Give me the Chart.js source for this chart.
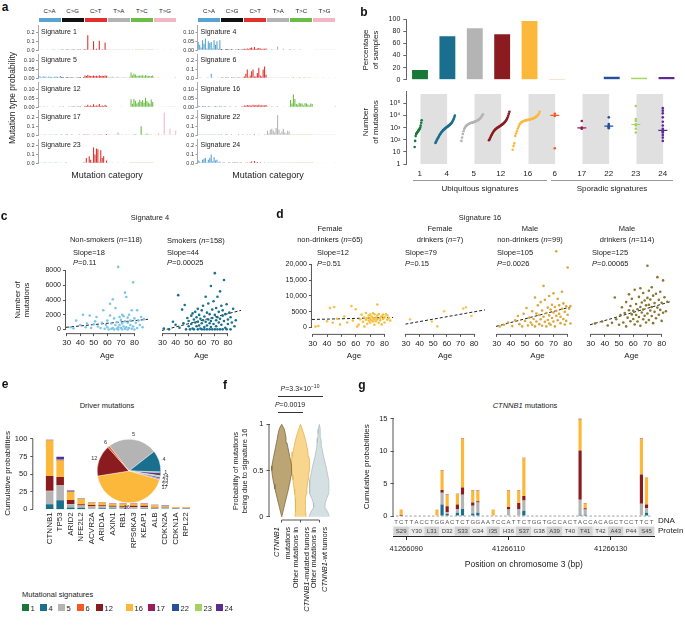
<!DOCTYPE html>
<html>
<head>
<meta charset="utf-8">
<script src="https://cdn.jsdelivr.net/npm/chart.js@4.4.0/dist/chart.umd.min.js"></script>
<style>
html, body { margin: 0; padding: 0; background: #fff; }
body { width: 685px; height: 625px; overflow: hidden; font-family: 'Liberation Sans', Arial, sans-serif; color: #222; }
#stage { position: relative; width: 685px; height: 625px; }
#stage canvas { position: absolute; }
.t { position: absolute; white-space: nowrap; line-height: 1.2; text-align: center; color: #222; }
.L { position: absolute; font-weight: bold; font-size: 12px; color: #111; transform: translate(-50%, -50%); }
</style>
</head>
<body>
<div id="stage"></div>
<script>
// ---------- a: signature profiles, 96 contexts (6 mutation types x 16) ----------
const mutTypes = ['C>A', 'C>G', 'C>T', 'T>A', 'T>C', 'T>G'];
const mutColors = ['#58a3d3', '#111111', '#e3302c', '#b3b3b3', '#6bbd45', '#f3b6c3'];

const sig1 = [
  .006,.005,.002,.004,.006,.004,.001,.004,.004,.003,.001,.003,.005,.004,.001,.006,
  .002,.001,.000,.002,.002,.001,.000,.002,.001,.001,.000,.001,.001,.001,.000,.002,
  .012,.008,.165,.006,.009,.007,.098,.007,.017,.009,.105,.006,.011,.008,.085,.008,
  .001,.001,.001,.002,.001,.001,.001,.001,.001,.001,.001,.001,.001,.001,.001,.002,
  .005,.003,.004,.003,.002,.003,.003,.003,.003,.002,.004,.002,.002,.002,.002,.002,
  .001,.000,.001,.001,.000,.000,.000,.001,.000,.000,.000,.000,.001,.000,.000,.001];
const sig5 = [
  .012,.010,.006,.011,.009,.008,.004,.010,.008,.007,.004,.009,.010,.009,.005,.012,
  .007,.005,.002,.006,.006,.004,.001,.005,.004,.003,.001,.004,.006,.005,.002,.006,
  .015,.012,.018,.014,.013,.011,.016,.013,.014,.011,.017,.012,.014,.012,.015,.014,
  .008,.006,.007,.010,.005,.004,.005,.008,.004,.004,.005,.006,.005,.004,.004,.009,
  .033,.015,.025,.021,.013,.014,.016,.015,.017,.011,.018,.014,.013,.012,.013,.015,
  .005,.003,.004,.006,.002,.002,.003,.004,.002,.002,.003,.003,.003,.003,.004,.008];
const sig12 = [
  .005,.004,.002,.004,.004,.003,.001,.003,.003,.002,.001,.002,.003,.003,.001,.004,
  .002,.001,.000,.002,.002,.001,.000,.001,.001,.001,.000,.001,.001,.001,.000,.002,
  .008,.006,.014,.007,.009,.007,.016,.008,.010,.008,.018,.007,.009,.007,.012,.008,
  .003,.002,.002,.003,.002,.002,.002,.003,.002,.001,.002,.002,.002,.002,.002,.003,
  .044,.019,.046,.036,.021,.028,.041,.030,.039,.024,.052,.034,.025,.019,.043,.029,
  .002,.001,.002,.002,.001,.001,.001,.002,.001,.001,.001,.001,.001,.001,.001,.004];
const sig17 = [
  .002,.001,.000,.001,.001,.001,.000,.001,.001,.001,.000,.001,.001,.001,.000,.002,
  .001,.000,.000,.001,.001,.000,.000,.001,.000,.000,.000,.000,.001,.000,.000,.001,
  .003,.002,.002,.003,.004,.004,.002,.009,.004,.003,.003,.007,.003,.004,.002,.012,
  .002,.001,.001,.004,.002,.001,.002,.030,.002,.001,.001,.006,.001,.001,.001,.003,
  .004,.002,.003,.010,.003,.005,.006,.100,.003,.002,.003,.018,.002,.002,.003,.005,
  .003,.001,.002,.021,.002,.002,.005,.250,.003,.001,.002,.070,.002,.001,.003,.052];
const sig23 = [
  .001,.001,.000,.001,.001,.001,.000,.001,.001,.001,.000,.001,.001,.001,.000,.001,
  .000,.000,.000,.001,.000,.000,.000,.000,.000,.000,.000,.000,.000,.000,.000,.001,
  .008,.060,.005,.080,.040,.012,.180,.100,.170,.160,.010,.150,.060,.080,.005,.030,
  .001,.000,.000,.001,.000,.000,.000,.001,.000,.000,.000,.001,.000,.000,.000,.001,
  .002,.001,.001,.002,.001,.001,.001,.002,.001,.001,.001,.001,.001,.001,.001,.002,
  .000,.000,.000,.000,.000,.000,.000,.000,.000,.000,.000,.000,.000,.000,.000,.000];
const sig4 = [
  .045,.030,.015,.055,.035,.065,.010,.050,.040,.045,.010,.055,.030,.050,.008,.055,
  .006,.004,.002,.005,.006,.004,.001,.005,.004,.003,.001,.004,.005,.004,.001,.005,
  .008,.006,.010,.007,.012,.015,.008,.018,.007,.010,.012,.009,.006,.008,.008,.010,
  .004,.003,.003,.006,.004,.004,.003,.020,.003,.002,.002,.008,.003,.002,.002,.005,
  .005,.003,.004,.004,.003,.003,.004,.004,.003,.002,.003,.003,.002,.002,.003,.003,
  .002,.001,.001,.002,.001,.001,.001,.002,.001,.001,.001,.001,.001,.001,.001,.002];
const sig6 = [
  .004,.003,.002,.004,.006,.005,.002,.009,.005,.050,.002,.006,.005,.004,.002,.006,
  .001,.001,.000,.001,.001,.001,.000,.001,.001,.001,.000,.001,.001,.001,.000,.001,
  .020,.050,.100,.010,.030,.080,.100,.020,.020,.060,.120,.030,.020,.100,.135,.040,
  .001,.001,.001,.001,.001,.001,.001,.001,.001,.001,.001,.001,.001,.001,.001,.001,
  .004,.002,.012,.004,.003,.006,.010,.008,.004,.003,.010,.006,.003,.003,.008,.005,
  .001,.000,.001,.001,.000,.000,.001,.001,.000,.000,.000,.001,.000,.000,.000,.001];
const sig16 = [
  .008,.006,.003,.007,.006,.005,.002,.006,.005,.004,.002,.005,.006,.005,.002,.007,
  .004,.003,.001,.004,.003,.002,.001,.003,.002,.002,.001,.002,.003,.003,.001,.004,
  .010,.008,.012,.009,.011,.008,.014,.010,.012,.009,.013,.010,.011,.009,.010,.012,
  .005,.003,.004,.005,.004,.003,.004,.006,.003,.003,.003,.004,.003,.003,.003,.005,
  .040,.020,.070,.045,.018,.015,.025,.020,.020,.010,.022,.020,.015,.010,.020,.018,
  .004,.002,.003,.004,.002,.002,.002,.003,.002,.002,.002,.002,.002,.002,.002,.006];
const sig22 = [
  .002,.001,.001,.002,.002,.001,.001,.002,.001,.001,.001,.001,.001,.001,.001,.002,
  .001,.000,.000,.001,.001,.000,.000,.001,.000,.000,.000,.000,.001,.000,.000,.001,
  .006,.004,.003,.005,.008,.006,.004,.010,.005,.004,.003,.006,.005,.004,.003,.007,
  .050,.020,.060,.070,.050,.030,.080,.220,.060,.020,.040,.070,.030,.020,.050,.040,
  .003,.002,.002,.003,.002,.002,.002,.003,.002,.001,.002,.002,.002,.001,.002,.003,
  .002,.001,.001,.002,.001,.001,.001,.002,.001,.001,.001,.001,.001,.001,.001,.002];
const sig24 = [
  .030,.020,.010,.040,.050,.060,.010,.040,.060,.100,.020,.070,.030,.040,.010,.020,
  .004,.003,.001,.004,.004,.003,.001,.004,.003,.002,.001,.003,.004,.003,.001,.004,
  .004,.003,.003,.005,.010,.020,.006,.025,.008,.015,.004,.010,.005,.006,.003,.006,
  .002,.001,.001,.002,.002,.001,.001,.002,.001,.001,.001,.001,.001,.001,.001,.002,
  .002,.001,.001,.002,.001,.001,.001,.002,.001,.001,.001,.001,.001,.001,.001,.002,
  .001,.000,.000,.001,.000,.000,.000,.001,.000,.000,.000,.000,.000,.000,.000,.001];

const sigLeft = ['1', '5', '12', '17', '23'];
const sigRight = ['4', '6', '16', '22', '24'];
const smallScaleSigs = ['5', '12', '4', '16'];
const tickBig = [0, 0.1, 0.2], tickBigLab = ['0.0', '0.1', '0.2'];
const tickSmall = [0, 0.05, 0.1], tickSmallLab = ['0.00', '0.05', '0.10'];

// ---------- b ----------
const sigNames = ['1', '4', '5', '12', '16', '6', '17', '22', '23', '24'];
const pctSamples = [16, 72, 85, 75, 97, 1.2, 1, 5, 3.5, 4.5];
const pctTicks = [0, 20, 40, 60, 80, 100];
const shaded = [0, 1, 0, 1, 0, 1, 0, 1, 0, 1];
const muts1 = [25, 80, 200, 300, 350, 400, 450, 500, 600, 700, 800, 1000, 1500, 2500, 4000];
const muts4 = [55, 65, 80, 100, 120, 140, 170, 200, 240, 280, 330, 380, 430, 480, 540, 600, 660, 720, 790, 860, 930, 1000, 1080, 1160, 1250, 1350, 1460, 1580, 1720, 1880, 2050, 2300, 2600, 3000, 3600, 4400, 5600, 7500, 10000];
const muts5 = [80, 150, 300, 500, 750, 1000, 1250, 1450, 1650, 1800, 1950, 2100, 2250, 2400, 2500, 2600, 2700, 2800, 2950, 3100, 3300, 3500, 3800, 4100, 4500, 5000, 5700, 6600, 8000, 10000, 12500];
const muts12 = [90, 110, 140, 180, 230, 290, 360, 440, 520, 600, 680, 760, 840, 920, 1000, 1080, 1170, 1260, 1360, 1480, 1600, 1750, 1920, 2100, 2350, 2650, 3000, 3500, 4200, 5200, 6800, 9500, 14000, 20000];
const muts16 = [15, 30, 50, 200, 320, 500, 800, 1200, 1700, 2200, 2600, 2900, 3200, 3450, 3650, 3850, 4000, 4150, 4300, 4450, 4600, 4800, 5000, 5300, 5600, 6000, 6500, 7200, 8000, 9200, 11000, 14000, 20000];
const muts6 = [20, 9000, 14000];
const muts17 = [800, 900, 1000, 3500];
const muts22 = [900, 1000, 1200, 1300, 1500, 2000, 7000];
const muts23 = [400, 800, 1500, 2000, 3500, 5000, 60000];
const muts24 = [80, 150, 250, 400, 500, 600, 800, 1500, 3000, 7000, 15000, 25000, 40000];
const sporadicMedian = [10000, 950, 1300, 1800, 600];
const logTicks = [1, 10, 100, 1000, 10000, 100000];
const logTickLabels = ['1', '10', '10²', '10³', '10⁴', '10⁵'];

const sigColor = { '1': '#17783a', '4': '#1a6e8e', '5': '#b4b4b4', '6': '#f15a24', '12': '#8a1c1f',
  '16': '#fbb83b', '17': '#9a1d5d', '22': '#24509c', '23': '#a3d461', '24': '#5b2d8e' };

// ---------- c / d: age vs number of mutations ----------
const ageTicks = [30, 40, 50, 60, 70, 80];
const cTicks = [0, 2000, 4000, 6000, 8000], cTickLabels = ['0', '2000', '4000', '6000', '8000'];
const dTicks = [0, 5000, 10000, 15000, 20000], dTickLabels = ['0', '5000', '10,000', '15,000', '20,000'];

const nonSmokers = [[33,300],[35,150],[37,1200],[40,600],[42,2000],[44,300],[45,800],[47,1900],[48,200],[50,700],[51,1100],[52,1700],[53,400],[55,200],[56,900],[57,2600],[58,100],[59,600],[60,1200],[60,300],[61,0],[62,1900],[62,3500],[63,100],[63,800],[64,4100],[64,200],[65,1500],[65,0],[66,600],[66,2900],[67,100],[67,1000],[68,300],[68,8500],[68,0],[69,1700],[69,600],[70,200],[70,1300],[71,0],[71,2000],[71,800],[72,400],[72,1800],[73,5000],[73,100],[73,1100],[74,4400],[74,300],[75,0],[75,1600],[75,900],[76,2000],[76,200],[77,600],[77,1200],[78,100],[78,2600],[79,6400],[79,400],[80,1500],[80,0],[81,900],[82,2600],[82,200],[83,1200],[84,600],[85,1700],[86,300],[87,1400]];
const smokers = [[31,100],[35,0],[38,1000],[40,600],[42,4500],[43,200],[45,2600],[46,800],[47,3200],[48,0],[49,1500],[50,400],[50,1100],[51,0],[52,1800],[52,700],[53,2100],[53,100],[54,1300],[54,0],[55,900],[55,2300],[56,400],[56,1600],[57,0],[57,2700],[57,1000],[58,500],[58,1900],[59,100],[59,1400],[60,800],[60,2500],[60,0],[61,1200],[61,3100],[62,300],[62,1700],[62,0],[63,1000],[63,4300],[64,2200],[64,500],[64,0],[65,1300],[65,3400],[66,800],[66,0],[66,2000],[67,5700],[67,1100],[67,300],[68,2600],[68,0],[68,1500],[69,700],[69,3700],[70,7400],[70,1900],[70,0],[71,1200],[71,2800],[71,400],[72,0],[72,1600],[72,4300],[73,900],[73,2300],[74,0],[74,1400],[74,5000],[75,3100],[75,600],[76,0],[76,1800],[76,2500],[77,1100],[77,6500],[78,200],[78,2000],[79,0],[79,3300],[80,1300],[80,700],[81,2200],[82,0],[82,1600],[83,900],[84,2700],[85,400],[86,1200]];
const femaleNonDrinkers = [[32,300],[34,500],[40,2000],[42,6200],[44,1500],[45,6500],[47,2800],[49,1000],[52,3500],[54,1600],[57,6800],[58,2200],[60,5800],[61,300],[62,900],[63,2600],[64,4100],[65,1800],[66,3200],[66,300],[67,2500],[67,4600],[68,1200],[68,3000],[69,2200],[69,3800],[70,4100],[70,1600],[70,2800],[71,3500],[71,2300],[72,4500],[72,1900],[72,3000],[73,2600],[73,4200],[73,900],[74,3200],[74,2000],[75,7300],[75,3800],[75,2600],[76,1500],[76,4300],[77,3100],[77,2300],[78,1000],[78,3600],[79,4100],[79,2700],[80,1600],[80,3300],[81,4200],[82,2500],[82,3800],[83,3000],[84,2200]];
const femaleDrinkers = [[33,2500],[49,1800],[53,300],[58,5000],[72,5800],[74,6200],[78,3500]];
const maleNonDrinkers = [[32,300],[35,800],[38,1500],[41,400],[43,2200],[45,3500],[46,1000],[48,300],[49,4200],[50,2000],[51,6000],[52,600],[53,3000],[54,1500],[55,800],[55,5000],[56,2600],[57,9200],[57,300],[58,4300],[58,1800],[59,6800],[60,1000],[60,3800],[61,7800],[61,2500],[62,500],[62,5200],[63,12800],[63,3300],[64,1700],[64,8500],[65,4400],[65,300],[66,6100],[66,2300],[67,9700],[67,1200],[67,3700],[68,5500],[68,800],[69,7000],[69,2900],[70,4600],[70,10500],[70,1800],[71,6300],[71,300],[72,23500],[72,3600],[72,5100],[73,2200],[73,8800],[74,4200],[74,6800],[75,1300],[75,3300],[76,11000],[76,5700],[77,2600],[77,7400],[78,900],[78,4800],[79,6500],[79,2000],[80,18500],[80,3900],[81,5800],[82,1200],[82,6600]];
const maleDrinkers = [[33,1200],[38,1800],[42,600],[45,1400],[47,9200],[48,2500],[50,800],[51,3800],[52,6200],[53,1500],[54,4400],[55,7800],[55,300],[56,3000],[57,5300],[57,10200],[58,1900],[58,6600],[59,4000],[59,8800],[60,2600],[60,5100],[61,11600],[61,900],[62,3800],[62,7200],[63,5600],[63,1800],[64,9400],[64,3200],[65,6300],[65,12100],[65,500],[66,4600],[66,7700],[67,2500],[67,10600],[67,5500],[68,8300],[68,3600],[69,6800],[69,1500],[70,19000],[70,9100],[70,4300],[71,7000],[71,11300],[71,2300],[72,5200],[72,8600],[73,3500],[73,12400],[73,6300],[74,1300],[74,9800],[75,4800],[75,7500],[76,10400],[76,2800],[77,15500],[77,6100],[78,8500],[78,3900],[79,11000],[79,5400],[80,2000],[80,7600],[81,14500],[81,4500],[82,9300],[83,5000],[84,7900]];
const trendNonSmokers = [[29.5, 290], [90, 1380]];
const trendSmokers = [[29.5, -150], [90, 2500]];
const trendFemaleNonDrinkers = [[29.5, 2550], [86, 3200]];
const trendFemaleDrinkers = [[29.5, 1000], [88, 5400]];
const trendMaleNonDrinkers = [[29.5, 300], [82, 6300]];
const trendMaleDrinkers = [[29.5, 800], [86, 7900]];

// ---------- e: driver mutations ----------
const genes = ['CTNNB1','TP53','ARID2','NFE2L2','ACVR2A','ARID1A','AXIN1','RB1','RPS6KA3','KEAP1','ALB','CDKN2A','CDKN1A','RPL22'];
const drvSigs = ['1', '4', '5', '6', '12', '16', '17', '22', '23', '24'];
const drv1  = [0.3,0.2,0.1,0.1,0,0,0,0,0,0,0,0,0,0];
const drv4  = [7,12.5,2.5,2,1,2,1.5,1,1,1.5,0.5,1,0.5,0.5];
const drv5  = [18.5,21,4.5,3,3,2,2,1.5,2,1.5,1.5,1.5,1,1];
const drv6  = [0.5,0.3,0.5,0.5,0.2,0.2,0.2,0.2,0.2,0.2,0.1,0.1,0.1,0.1];
const drv12 = [21,12,5.5,1.5,2,1.5,1.5,1.5,2,2,0.5,0.5,0.3,0.3];
const drv16 = [50.5,23.5,11.5,7.5,3.5,4,2.5,3.5,2.5,2.5,3,1.5,1,1];
const drv17 = [0.3,0.5,0.3,0.2,0.1,0.1,0.1,0.1,0.1,0.1,0.1,0.1,0,0];
const drv22 = [0.2,0.5,0.2,0.1,0.1,0.1,0.1,0.1,0.1,0.1,0.1,0.1,0,0];
const drv23 = [0.1,0.1,0.1,0,0,0,0,0,0,0,0,0,0,0];
const drv24 = [0.5,4,1.5,0.5,0.5,0.5,0.5,0.5,0.5,0.5,0.5,0.5,0.2,0.2];
const drvData = [drv1, drv4, drv5, drv6, drv12, drv16, drv17, drv22, drv23, drv24];
const eTicks = [0, 25, 50, 75, 100];
const pieSigs = ['5', '4', '1', '24', '23', '22', '17', '16', '12', '6'];
const pieShares = [25, 11, 0.5, 1.5, 0.7, 0.8, 0.5, 43, 16, 1];

// ---------- f: violins ----------
const violinY = [0,0.05,0.1,0.15,0.2,0.25,0.3,0.35,0.4,0.45,0.5,0.55,0.6,0.65,0.7,0.75,0.8,0.85,0.9,0.95,1];
const violinW1 = [0,.06,.12,.18,.24,.3,.36,.41,.46,.5,.53,.52,.48,.43,.38,.33,.28,.23,.19,.13,0];
const violinW2 = [.3,.28,.25,.26,.28,.31,.34,.37,.4,.43,.47,.49,.48,.45,.4,.35,.3,.24,.17,.09,0];
const violinW3 = [.55,.45,.3,.32,.4,.5,.53,.52,.5,.45,.4,.35,.29,.23,.18,.14,.11,.08,.06,.04,0];
const violinMedians = [0.51, 0.44, 0.35];
const fTicks = [0, 0.5, 1], fTickLabels = ['0', '0.5', '1'];

// ---------- g: CTNNB1 hotspot ----------
const dnaSeq = 'TCTTACCTGGACTCTGGAATCCATTCTGGTGCCACTACCACAGCTCCTTCT';
const dnaStart = 41266088;
const codons = ['S29','Y30','L31','D32','S33','G34','I35','H36','S37','G38','A39','T40','T41','T42','A43','P44','S45'];
const posTicks = ['41266090', '41266110', '41266130'];
const gTicks = [0, 5, 10, 15];
const mutPos = [41266089,41266096,41266097,41266098,41266100,41266101,41266103,41266104,41266107,41266110,41266112,41266113,41266124,41266125,41266136,41266137];
const g4  = [0,0,1.8,0.3,0.5,1.1,0.4,0.5,0,0.1,0.1,0.8,0.2,0.2,0.1,0.5];
const g5  = [0.05,0,1.8,0.3,0.6,2.2,1.2,1.6,0,0.9,1.0,1.6,2.3,0.8,1.8,0.7];
const g12 = [0.1,0,0.4,0.9,0.7,1.1,0.5,0.2,0,0.4,0.9,0.7,7.6,0.2,4.5,0.6];
const g16 = [0.85,1,3.0,1.8,1.6,7.5,1.8,1.6,1,2.5,1.9,5.8,4.8,0.7,5.5,4.1];
const g17 = [0,0,0.06,0.05,0.05,0.1,0.06,0.06,0,0.07,0.06,0.08,0.1,0.06,0.1,0.06];

// ================= drawing =================
Chart.defaults.font.family = "'Liberation Sans', Arial, sans-serif";
Chart.defaults.font.size = 7;
Chart.defaults.color = '#222';
Chart.defaults.animation = false;
Chart.defaults.responsive = false;
Chart.defaults.maintainAspectRatio = false;
Chart.defaults.events = [];
Chart.defaults.plugins.legend.display = false;
Chart.defaults.plugins.tooltip.enabled = false;

// axis line drawn only between first and last tick (detached look)
const rangeAxes = {
  id: 'rangeAxes',
  afterDraw(chart, args, opts) {
    const ctx = chart.ctx;
    (opts.axes || []).forEach(id => {
      const s = chart.scales[id];
      if (!s || !s.ticks.length) return;
      const a = s.getPixelForValue(s.ticks[0].value);
      const b = s.getPixelForValue(s.ticks[s.ticks.length - 1].value);
      ctx.save();
      ctx.strokeStyle = opts.color || '#555';
      ctx.lineWidth = 1;
      ctx.beginPath();
      if (s.isHorizontal()) { ctx.moveTo(a, s.top + 0.5); ctx.lineTo(b, s.top + 0.5); }
      else { ctx.moveTo(s.right - 0.5, a); ctx.lineTo(s.right - 0.5, b); }
      ctx.stroke();
      ctx.restore();
    });
  }
};
Chart.register(rangeAxes);

const stage = document.getElementById('stage');

function frame(aL, aT, aR, aB, pL, pT, pR, pB) {
  const left = Math.round(aL - pL), top = Math.round(aT - pT);
  const w = Math.round(aR + pR) - left, h = Math.round(aB + pB) - top;
  const c = document.createElement('canvas');
  c.width = w; c.height = h;
  c.style.left = left + 'px'; c.style.top = top + 'px';
  stage.appendChild(c);
  return { c, pL: aL - left, pT: aT - top, pR: left + w - aR, pB: top + h - aB };
}
const fixW = w => s => { s.width = w; };
const fixH = h => s => { s.height = h; };
const setTicks = vals => s => { s.ticks = vals.map(v => ({ value: v })); };

function T(html, x, y, size, opt) {
  opt = opt || {};
  const d = document.createElement('div');
  d.className = 't';
  d.innerHTML = html;
  d.style.left = x + 'px'; d.style.top = y + 'px'; d.style.fontSize = size + 'px';
  if (opt.lh) d.style.lineHeight = opt.lh + 'px';
  let tr = opt.align === 'l' ? 'translate(0,-50%)' : 'translate(-50%,-50%)';
  if (opt.rot) tr += ' rotate(-90deg)';
  d.style.transform = tr;
  stage.appendChild(d);
  return d;
}
function letter(ch, x, y) {
  const d = document.createElement('div');
  d.className = 'L'; d.textContent = ch;
  d.style.left = x + 'px'; d.style.top = y + 'px';
  stage.appendChild(d);
}
function hline(x, y, w, color) {
  const d = document.createElement('div');
  d.style.cssText = `position:absolute;left:${x}px;top:${y}px;width:${w}px;height:0;border-top:1px solid ${color};`;
  stage.appendChild(d);
}
function box(x, y, w, h, color) {
  const d = document.createElement('div');
  d.style.cssText = `position:absolute;left:${x}px;top:${y}px;width:${w}px;height:${h}px;background:${color};`;
  stage.appendChild(d);
}

// ---------- panel a ----------
letter('a', 5, 7);
const sigProfile = { '1': sig1, '5': sig5, '12': sig12, '17': sig17, '23': sig23,
  '4': sig4, '6': sig6, '16': sig16, '22': sig22, '24': sig24 };
[[sigLeft, 38, 176.5], [sigRight, 197.5, 336]].forEach(([list, aL, aR]) => {
  const bw = (aR - aL) / 6;
  mutTypes.forEach((m, k) => {
    box(aL + k * bw + 0.5, 17.5, bw - 1, 4, mutColors[k]);
    T(m.replace('>', '&gt;'), aL + (k + 0.5) * bw, 12.3, 6, {});
  });
  list.forEach((s, k) => {
    const zero = 51 + 28.35 * k;
    const small = smallScaleSigs.includes(s);
    const tv = small ? tickSmall : tickBig, tl = small ? tickSmallLab : tickBigLab;
    const f = frame(aL, zero - 19 * 1.35, aR, zero, 16, 4, 1, 4);
    const vals = sigProfile[s];
    new Chart(f.c, {
      type: 'bar',
      data: {
        labels: vals.map((_, i) => i),
        datasets: [{ data: vals, backgroundColor: vals.map((_, i) => mutColors[Math.floor(i / 16)]),
          barPercentage: 0.75, categoryPercentage: 1 }]
      },
      options: {
        layout: { padding: { left: 0, top: f.pT, right: f.pR, bottom: f.pB } },
        scales: {
          x: { display: false },
          y: { min: 0, max: tv[2] * 1.35, afterBuildTicks: setTicks(tv), afterFit: fixW(f.pL),
               ticks: { font: { size: 5.5 }, padding: 1.5, color: '#333', callback: (v, i) => tl[i] },
               grid: { display: true, drawOnChartArea: false, tickLength: 2, color: '#999' },
               border: { display: true, color: '#aaa' } }
        }
      }
    });
    T('Signature ' + s, aL + 3, zero - 19, 7, { align: 'l' });
  });
});
T('Mutation type probability', 12, 98, 8.5, { rot: true });
T('Mutation category', 107, 175, 9);
T('Mutation category', 268, 175, 9);

// ---------- panel b ----------
letter('b', 364, 12);
T('Percentage<br>of samples', 371, 50, 8, { rot: true, lh: 10 });
T('Number<br>of mutations', 371, 122, 8, { rot: true, lh: 10 });
const fb1 = frame(406.3, 15.7, 680.2, 84, 26, 4, 2, 3);
new Chart(fb1.c, {
  type: 'bar',
  data: { labels: sigNames, datasets: [{ data: pctSamples, backgroundColor: sigNames.map(s => sigColor[s]),
    barPercentage: 0.58, categoryPercentage: 1 }] },
  options: {
    layout: { padding: { left: 0, top: fb1.pT, right: fb1.pR, bottom: fb1.pB } },
    scales: {
      x: { display: false },
      y: { min: 0, max: 100, afterBuildTicks: setTicks(pctTicks), afterFit: fixW(fb1.pL),
           ticks: { font: { size: 7 }, padding: 3 },
           grid: { drawOnChartArea: false, tickLength: 3, color: '#666' }, border: { color: '#666' } }
    }
  }
});

const mutLists = [muts1, muts4, muts5, muts12, muts16, muts6, muts17, muts22, muts23, muts24];
const ubSpread = [0.13, 0.36, 0.4, 0.38, 0.5];
const fb2 = frame(406.3, 86.7, 680.2, 164, 26, 3, 2, 14);
const bSets = [{
  type: 'bar', xAxisID: 'xb', data: shaded.map(v => v ? [1, 5.5e5] : null),
  backgroundColor: '#e0e0e0', barThickness: 26, order: 5
}];
mutLists.forEach((list, i) => {
  const n = list.length;
  const pts = list.map((v, r) => i < 5
    ? { x: i - 0.06 + ubSpread[i] * (2 * r / (n - 1) - 1), y: v }
    : { x: i, y: v });
  bSets.push({ type: 'scatter', data: pts, backgroundColor: sigColor[sigNames[i]], borderWidth: 0,
    pointRadius: 1.3, order: 1 });
});
sporadicMedian.forEach((m, k) => {
  const i = k + 5;
  bSets.push({ type: 'scatter', data: [{ x: i, y: m }], pointStyle: 'line', pointRadius: 4.5,
    borderColor: sigColor[sigNames[i]], borderWidth: 1.2, order: 0 });
});
new Chart(fb2.c, {
  type: 'scatter',
  data: { datasets: bSets },
  options: {
    layout: { padding: { left: 0, top: fb2.pT, right: fb2.pR, bottom: 0 } },
    scales: {
      x: { type: 'linear', min: -0.5, max: 9.5, afterBuildTicks: setTicks(sigNames.map((_, i) => i)),
           afterFit: fixH(fb2.pB), ticks: { font: { size: 8 }, padding: 4.5, callback: (v, i) => sigNames[i] },
           grid: { display: false, drawTicks: false }, border: { display: false } },
      xb: { type: 'category', labels: sigNames, offset: true, display: false },
      y: { type: 'logarithmic', min: 1, max: 1e6, afterBuildTicks: setTicks(logTicks), afterFit: fixW(fb2.pL),
           ticks: { font: { size: 7 }, padding: 3, callback: (v, i) => logTickLabels[i] },
           grid: { drawOnChartArea: false, tickLength: 3, color: '#666' }, border: { color: '#666' } }
    }
  }
});
hline(413, 180, 134, '#999');
hline(551, 180, 122, '#999');
T('Ubiquitous signatures', 480, 189, 8);
T('Sporadic signatures', 612, 189, 8);

// ---------- panels c and d ----------
function agePanel(aL, aT, aR, aB, pL, xMax, yMin, yMax, yT, yL, sets, trend) {
  const showY = !!yT;
  const f = frame(aL, aT, aR, aB, pL, 3, 1, 361 - aB);
  const ds = sets.map(([pts, col]) => ({ data: pts.map(p => ({ x: p[0], y: p[1] })), backgroundColor: col,
    borderWidth: 0, pointRadius: 1.3 }));
  ds.push({ type: 'line', data: trend.map(p => ({ x: p[0], y: p[1] })), borderColor: '#222', borderWidth: 1,
    borderDash: [3, 2], pointRadius: 0, fill: false });
  new Chart(f.c, {
    type: 'scatter',
    data: { datasets: ds },
    options: {
      layout: { padding: { left: showY ? 0 : f.pL, top: f.pT, right: f.pR, bottom: 0 } },
      plugins: { rangeAxes: { axes: showY ? ['x', 'y'] : ['x'] } },
      scales: {
        x: { min: 29.5, max: xMax, afterBuildTicks: setTicks(ageTicks), afterFit: fixH(f.pB),
             ticks: { font: { size: 8 }, padding: 2, callback: (v, i) => ageTicks[i] },
             grid: { drawOnChartArea: false, tickLength: 3, color: '#555' }, border: { display: false },
             title: { display: true, text: 'Age', font: { size: 8 }, padding: 0 } },
        y: showY ? { min: yMin, max: yMax, afterBuildTicks: setTicks(yT), afterFit: fixW(f.pL),
             ticks: { font: { size: 7 }, padding: 2, callback: (v, i) => yL[i] },
             grid: { drawOnChartArea: false, tickLength: 3, color: '#555' }, border: { display: false } }
          : { display: false, min: yMin, max: yMax }
      }
    }
  });
}
letter('c', 4, 216);
T('Signature 4', 150, 217, 7.5);
T('Non-smokers (<i>n</i>=118)', 106, 239, 7.5);
T('Slope=18', 73, 252, 7.5, { align: 'l' });
T('<i>P</i>=0.11', 73, 262, 7.5, { align: 'l' });
T('Smokers (<i>n</i>=158)', 167, 240, 7.5, { align: 'l' });
T('Slope=44', 167, 252, 7.5, { align: 'l' });
T('<i>P</i>=0.00025', 167, 262, 7.5, { align: 'l' });
T('Number of<br>mutations', 22, 300, 8, { rot: true, lh: 9 });
agePanel(66.0, 260.34, 151.4, 333.13, 25, 90, -500, 9000, cTicks, cTickLabels, [[nonSmokers, '#7cc6ea']], trendNonSmokers);
agePanel(161.6, 260.34, 243.9, 333.13, 6, 90, -500, 9000, null, null, [[smokers, '#19708f']], trendSmokers);

letter('d', 280, 214);
T('Signature 16', 480, 217, 7.5);
const dHeads = [['Female', 'non-drinkers (<i>n</i>=65)', 'Slope=12', '<i>P</i>=0.51', 330, 317],
  ['Female', 'drinkers (<i>n</i>=7)', 'Slope=79', '<i>P</i>=0.15', 440, 405],
  ['Male', 'non-drinkers (<i>n</i>=99)', 'Slope=105', '<i>P</i>=0.0026', 530, 497],
  ['Male', 'drinkers (<i>n</i>=114)', 'Slope=125', '<i>P</i>=0.00065', 627, 592]];
dHeads.forEach(h => {
  T(h[0], h[4], 228, 7.5);
  T(h[1], h[4], 239, 7.5);
  T(h[2], h[5], 252, 7.5, { align: 'l' });
  T(h[3], h[5], 262.5, 7.5, { align: 'l' });
});
agePanel(311.96, 246.94, 398.5, 333.86, 28, 88, -2000, 24500, dTicks, dTickLabels, [[femaleNonDrinkers, '#f5c040']], trendFemaleNonDrinkers);
agePanel(405.3, 246.94, 488.4, 333.86, 6, 88, -2000, 24500, null, null, [[femaleDrinkers, '#f5c85a']], trendFemaleDrinkers);
agePanel(495.97, 246.94, 581.7, 333.86, 6, 88, -2000, 24500, null, null, [[maleNonDrinkers, '#d9a83c']], trendMaleNonDrinkers);
agePanel(589.97, 246.94, 675.7, 333.86, 6, 88, -2000, 24500, null, null, [[maleDrinkers, '#8c7530']], trendMaleDrinkers);

// ---------- panel e ----------
letter('e', 5, 384);
T('Driver mutations', 107, 405, 7.5);
const fe = frame(33.3, 433.5, 197.3, 509.3, 33, 4, 2, 52);
new Chart(fe.c, {
  type: 'bar',
  data: { datasets: drvSigs.map((s, k) => ({ data: drvData[k].map((v, i) => ({ x: i, y: v })),
    backgroundColor: sigColor[s], barPercentage: 0.72, categoryPercentage: 1 })) },
  options: {
    layout: { padding: { left: 0, top: fe.pT, right: fe.pR, bottom: 0 } },
    plugins: { rangeAxes: { axes: ['y'] } },
    scales: {
      x: { type: 'linear', stacked: true, min: -1, max: 13.5, afterBuildTicks: setTicks(genes.map((_, i) => i)),
           afterFit: fixH(fe.pB),
           ticks: { callback: (v, i) => genes[i], font: { size: 8 }, minRotation: 90, maxRotation: 90, padding: 3, autoSkip: false },
           grid: { display: false, drawTicks: false }, border: { display: false } },
      y: { stacked: true, min: 0, max: 102, afterBuildTicks: setTicks(eTicks), afterFit: fixW(fe.pL),
           ticks: { font: { size: 7.5 }, padding: 3 },
           grid: { drawOnChartArea: false, tickLength: 3, color: '#555' }, border: { display: false },
           title: { display: true, text: 'Cumulative probabilities', font: { size: 8 }, padding: { top: 2.9, bottom: 0 } } }
    }
  }
});

const pieLabels = {
  id: 'pieLabels',
  afterDatasetsDraw(chart) {
    const meta = chart.getDatasetMeta(0), ctx = chart.ctx, labels = chart.data.labels;
    const items = meta.data.map((arc, i) => {
      const p = arc.getProps(['x', 'y', 'startAngle', 'endAngle', 'outerRadius']);
      const a = (p.startAngle + p.endAngle) / 2, r = p.outerRadius + 5;
      return { t: labels[i], x: p.x + Math.cos(a) * r, y: p.y + Math.sin(a) * r, cx: p.x };
    });
    for (let i = 1; i < items.length; i++) {
      const a = items[i - 1], b = items[i];
      if (a.x > a.cx && b.x > b.cx && b.y - a.y < 3.8) b.y = a.y + 3.8;
    }
    ctx.save();
    ctx.font = "5.5px 'Liberation Sans', Arial, sans-serif";
    ctx.fillStyle = '#333'; ctx.textAlign = 'center'; ctx.textBaseline = 'middle';
    items.forEach(it => ctx.fillText(it.t, it.x, it.y));
    ctx.restore();
  }
};
const pc = document.createElement('canvas');
pc.width = 88; pc.height = 92; pc.style.left = '85px'; pc.style.top = '425px';
stage.appendChild(pc);
new Chart(pc, {
  type: 'pie',
  data: { labels: pieSigs, datasets: [{ data: pieShares, backgroundColor: pieSigs.map(s => sigColor[s]),
    borderWidth: 0.4, borderColor: '#fff' }] },
  options: { rotation: -38, layout: { padding: 12 } },
  plugins: [pieLabels]
});

T('Mutational signatures', 22, 594, 7.5, { align: 'l' });
const legendX = [22, 40, 58, 77, 96, 126, 148, 172, 195, 216];
drvSigs.forEach((s, k) => {
  box(legendX[k], 604, 6.5, 6.5, sigColor[s]);
  T(s, legendX[k] + 8.5, 607.5, 7.5, { align: 'l' });
});

// ---------- panel f ----------
letter('f', 225, 385);
const ff = frame(269.5, 418.8, 329.6, 520.6, 41.5, 4, 2, 6);
const vW = [violinW1, violinW2, violinW3];
const vFill = ['#bba575', '#f8d68e', '#d5e0e3'];
const vLine = ['#7f6a3e', '#e2b550', '#aebfc4'];
const fSets = [];
vW.forEach((w, k) => {
  const c = k + 1;
  const right = violinY.map((y, j) => ({ x: c + w[j], y }));
  const left = violinY.map((y, j) => ({ x: c - w[j], y })).reverse();
  fSets.push({ type: 'scatter', showLine: true, data: right.concat(left), fill: 'shape',
    backgroundColor: vFill[k], borderColor: vLine[k], borderWidth: 0.8, pointRadius: 0, tension: 0 });
});
violinMedians.forEach((m, k) => {
  fSets.push({ type: 'line', data: [{ x: k + 0.73, y: m }, { x: k + 1.27, y: m }], borderColor: '#333',
    borderWidth: 1, pointRadius: 0, fill: false });
});
new Chart(ff.c, {
  type: 'scatter',
  data: { datasets: fSets },
  options: {
    layout: { padding: { left: 0, top: ff.pT, right: ff.pR, bottom: 0 } },
    plugins: { rangeAxes: { axes: ['x', 'y'] } },
    scales: {
      x: { min: 0.35, max: 3.55, afterBuildTicks: setTicks([1, 2, 3]), afterFit: fixH(ff.pB),
           ticks: { callback: () => '', padding: 0 },
           grid: { drawOnChartArea: false, tickLength: 3, color: '#555' }, border: { display: false } },
      y: { min: -0.03, max: 1.02, afterBuildTicks: setTicks(fTicks), afterFit: fixW(ff.pL),
           ticks: { font: { size: 7.5 }, padding: 3, callback: (v, i) => fTickLabels[i] },
           grid: { drawOnChartArea: false, tickLength: 3, color: '#555' }, border: { display: false },
           title: { display: true, text: ['Probability of mutations', 'being due to signature 16'],
                    font: { size: 7.5, lineHeight: 1.2 }, padding: { top: 3.5, bottom: 0 } } }
    }
  }
});
T('<i>P</i>=3.3×10<sup style="font-size:5px">−10</sup>', 300, 388, 7);
hline(278, 396, 45, '#333');
T('<i>P</i>=0.0019', 290, 405, 7);
hline(278, 411.5, 25, '#333');
const vLabels = ['<i>CTNNB1</i><br>mutations', 'Other mutations in<br><i>CTNNB1</i>-mutated tumors',
  'Other mutations in<br><i>CTNNB1</i>-wt tumors'];
[281.7, 300.5, 319.3].forEach((cx, k) => {
  const d = document.createElement('div');
  d.className = 't';
  d.innerHTML = vLabels[k];
  d.style.cssText += `left:${cx}px;top:526.5px;font-size:7.5px;line-height:10.5px;text-align:right;` +
    'transform-origin:0 0;transform:rotate(-90deg) translate(-100%,-50%);';
  stage.appendChild(d);
});

// ---------- panel g ----------
letter('g', 362, 385);
T('<i>CTNNB1</i> mutations', 525, 405, 7.5);
const dnaLetters = dnaSeq.split('');
const posLabels = dnaLetters.map((_, i) => String(dnaStart + i));
const fullRow = arr => dnaLetters.map((_, i) => { const k = mutPos.indexOf(dnaStart + i); return k < 0 ? 0 : arr[k]; });
const gSigs = ['4', '5', '12', '16', '17'];
const gData = [g4, g5, g12, g16, g17];
const fg = frame(393.5, 412.36, 654.2, 518, 35.5, 4, 1, 53);
const gSets = gSigs.map((s, k) => ({ data: fullRow(gData[k]), backgroundColor: sigColor[s],
  barPercentage: 0.62, categoryPercentage: 1 }));
gSets.push({ type: 'line', data: dnaLetters.map(() => 0), borderColor: '#888', borderWidth: 0.8,
  borderDash: [2.5, 2], pointRadius: 0, fill: false });
new Chart(fg.c, {
  type: 'bar',
  data: { labels: dnaLetters, datasets: gSets },
  options: {
    layout: { padding: { left: 0, top: fg.pT, right: fg.pR, bottom: 0 } },
    plugins: { rangeAxes: { axes: ['y'] } },
    scales: {
      x: { type: 'category', stacked: true, weight: 0, offset: true, afterFit: fixH(7),
           grid: { display: false, drawTicks: false }, border: { display: false },
           ticks: { font: { size: 6 }, color: '#555', padding: 1, autoSkip: false, maxRotation: 0 } },
      xProt: { type: 'category', labels: codons, position: 'bottom', weight: 1, offset: true, afterFit: fixH(11),
           grid: { display: false, drawTicks: false }, border: { display: false },
           ticks: { font: { size: 6 }, color: '#444', padding: 2.5, autoSkip: false, maxRotation: 0,
                    showLabelBackdrop: true, backdropColor: c => c.index % 2 ? '#ececec' : '#d3d3d3',
                    backdropPadding: { x: 2.5, y: 1 } } },
      xPos: { type: 'category', labels: posLabels, position: 'bottom', weight: 2, offset: true, afterFit: fixH(35),
           afterBuildTicks: s => { s.ticks = s.ticks.filter(t => posTicks.includes(posLabels[t.value])); },
           grid: { display: true, drawOnChartArea: false, tickLength: 4, offset: false, color: '#222' },
           border: { display: true, color: '#222' },
           ticks: { font: { size: 7.5 }, padding: 4.5, autoSkip: false, maxRotation: 0 },
           title: { display: true, text: 'Position on chromosome 3 (bp)', font: { size: 8.5 }, padding: { top: 0, bottom: 1 } } },
      y: { stacked: true, min: -0.3, max: 15.5, afterBuildTicks: setTicks(gTicks), afterFit: fixW(fg.pL),
           ticks: { font: { size: 7.5 }, padding: 3 },
           grid: { drawOnChartArea: false, tickLength: 3, color: '#555' }, border: { display: false },
           title: { display: true, text: 'Cumulative probabilities', font: { size: 8 }, padding: { top: 4.2, bottom: 0 } } }
    }
  }
});
T('DNA', 658, 521, 8, { align: 'l' });
T('Protein', 658, 531, 8, { align: 'l' });
</script>
</body>
</html>
